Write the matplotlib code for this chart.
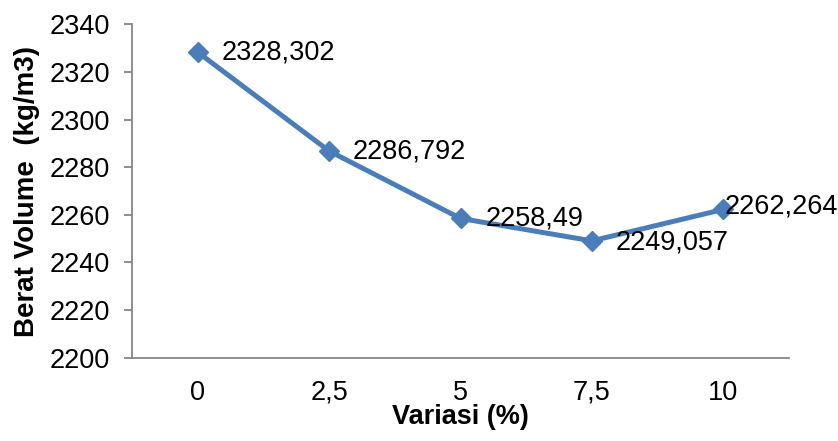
import matplotlib
matplotlib.use("Agg")
import matplotlib.pyplot as plt

plt.rcParams['font.family'] = ['Liberation Sans', 'DejaVu Sans']

categories = ["0", "2,5", "5", "7,5", "10"]
berat_volume = [2328.302, 2286.792, 2258.49, 2249.057, 2262.264]
value_labels = ["2328,302", "2286,792", "2258,49", "2249,057", "2262,264"]
y_ticks = [2200, 2220, 2240, 2260, 2280, 2300, 2320, 2340]

fig = plt.figure(figsize=(8.38, 4.41), dpi=100)
ax = fig.add_axes([132 / 838, 1 - 357.7 / 441, (789 - 132) / 838, (357.7 - 24.3) / 441])

x = list(range(len(categories)))
line_color = "#4A7EBB"
ax.plot(x, berat_volume, color=line_color, linewidth=3.6, marker="D",
        markersize=10, markerfacecolor=line_color, markeredgecolor=line_color,
        solid_joinstyle="round", clip_on=False, zorder=3)

# data labels to the right of each point; the last one is pulled in to fit
offsets = [(17, 0), (17, 0), (18, 0), (17, -1), (1, 2)]
for xi, yi, txt, off in zip(x, berat_volume, value_labels, offsets):
    ax.annotate(txt, (xi, yi), xytext=off, textcoords="offset points",
                ha="left", va="center", fontsize=19.5, color="black",
                annotation_clip=False, zorder=4)

ax.set_xlim(-0.5, len(categories) - 0.5)
ax.set_ylim(2200, 2340)
ax.set_xticks(x)
ax.set_xticklabels(categories)
ax.set_yticks(y_ticks)

spine_color = "#868686"
for side in ("top", "right"):
    ax.spines[side].set_visible(False)
for side in ("left", "bottom"):
    ax.spines[side].set_color(spine_color)
    ax.spines[side].set_linewidth(1.3)

ax.tick_params(axis="y", direction="out", length=6, width=1.3, color=spine_color,
               labelsize=19.5, pad=10)
ax.tick_params(axis="x", length=0, labelsize=19.5, pad=16)

ax.set_xlabel("Variasi (%)", fontsize=19.5, fontweight="bold")
ax.set_ylabel("Berat Volume  (kg/m3)", fontsize=20, fontweight="bold")
ax.xaxis.set_label_coords(0.5, 1 - (417 - 24.3) / (357.7 - 24.3), transform=ax.transAxes)
ax.yaxis.set_label_coords((27 - 132) / (789 - 132), 0.5, transform=ax.transAxes)
ax.xaxis.label.set_va("center")
ax.yaxis.label.set_va("center")

fig.savefig("out.png", dpi=100)
